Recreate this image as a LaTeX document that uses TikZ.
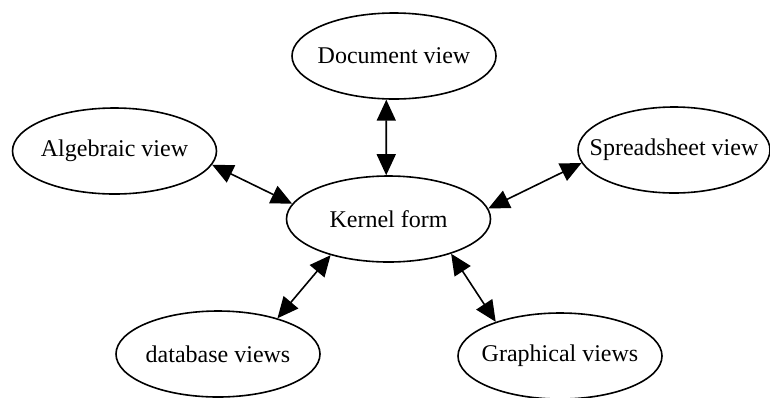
\documentclass[tikz,border=0pt]{standalone}
\usepackage{fontspec}
\setmainfont{Liberation Serif}
\usetikzlibrary{arrows.meta,shapes.geometric}
\newcommand\vtext[1]{\makebox[0pt]{#1}}
\begin{document}
\begin{tikzpicture}[x=1pt,y=-1pt,
  view/.style={ellipse, draw, line width=1.6pt, minimum width=204pt, minimum height=86pt, inner sep=0pt, font=\fontsize{24}{28}\selectfont},
  link/.style={line width=1.6pt, {Triangle[length=21pt,width=19pt]}-{Triangle[length=21pt,width=19pt]}}]
\useasboundingbox (0,0) rectangle (770,397);
\node[view] (doc) at (394,56) {\vtext{Document view}};
\node[view] (alg) at (114.5,151) {\vtext{Algebraic view}};
\node[view] (kern) at (388.5,219) {\vtext{Kernel form}};
\node[view, minimum width=192pt] (spr) at (674,150) {\vtext{Spreadsheet view}};
\node[view] (db) at (218,354) {\vtext{database views}};
\node[view] (gra) at (560,356) {\vtext{Graphical views}};
\draw[link] (doc.-100.5) -- (kern.93);
\draw[link] (alg.-8.6) -- (kern.171.6);
\draw[link] (spr.-172) -- (kern.6.2);
\draw[link] (db.31.7) -- (kern.-148.4);
\draw[link] (gra.152.4) -- (kern.-29.6);
\end{tikzpicture}
\end{document}
